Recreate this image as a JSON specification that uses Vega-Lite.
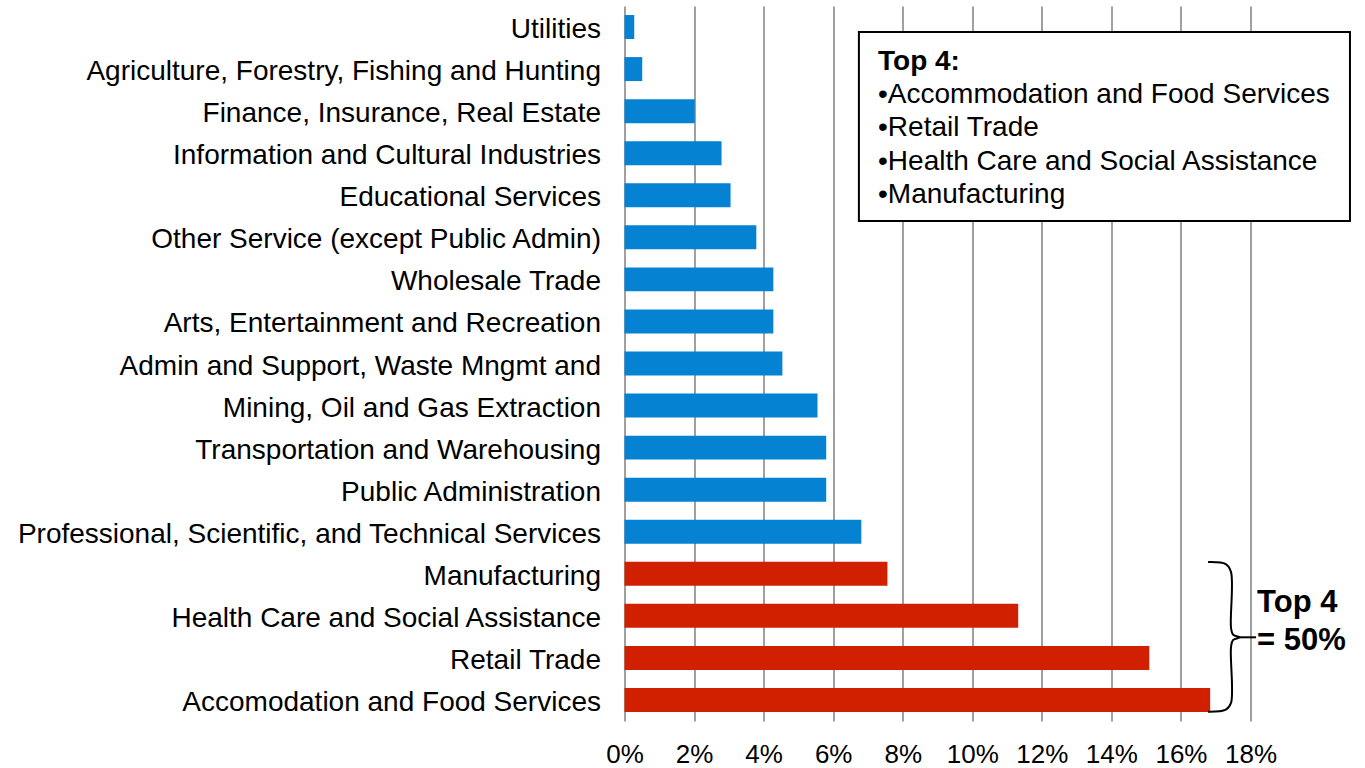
{
  "$schema": "https://vega.github.io/schema/vega-lite/v6.json",
  "width": 626,
  "height": 715,
  "autosize": "none",
  "padding": {"left": 624.5, "top": 6, "right": 114.5, "bottom": 47},
  "background": "white",
  "config": {"view": {"stroke": null}, "font": "Liberation Sans"},
  "datasets": {
    "bars": [
      {"industry": "Utilities", "share": 0.28, "group": "Other"},
      {"industry": "Agriculture, Forestry, Fishing and Hunting", "share": 0.51, "group": "Other"},
      {"industry": "Finance, Insurance, Real Estate", "share": 2.02, "group": "Other"},
      {"industry": "Information and Cultural Industries", "share": 2.79, "group": "Other"},
      {"industry": "Educational Services", "share": 3.05, "group": "Other"},
      {"industry": "Other Service (except Public Admin)", "share": 3.79, "group": "Other"},
      {"industry": "Wholesale Trade", "share": 4.28, "group": "Other"},
      {"industry": "Arts, Entertainment and Recreation", "share": 4.28, "group": "Other"},
      {"industry": "Admin and Support, Waste Mngmt and", "share": 4.54, "group": "Other"},
      {"industry": "Mining, Oil and Gas Extraction", "share": 5.55, "group": "Other"},
      {"industry": "Transportation and Warehousing", "share": 5.8, "group": "Other"},
      {"industry": "Public Administration", "share": 5.8, "group": "Other"},
      {"industry": "Professional, Scientific, and Technical Services", "share": 6.81, "group": "Other"},
      {"industry": "Manufacturing", "share": 7.56, "group": "Top 4"},
      {"industry": "Health Care and Social Assistance", "share": 11.32, "group": "Top 4"},
      {"industry": "Retail Trade", "share": 15.09, "group": "Top 4"},
      {"industry": "Accomodation and Food Services", "share": 16.84, "group": "Top 4"}
    ],
    "box": [{"x1": 6.74, "x2": 20.86, "y1": 0.62, "y2": 5.11}],
    "boxTitle": [{"label": "Top 4:", "x": 7.29, "y": 1.52}],
    "boxItems": [
      {"label": "•Accommodation and Food Services", "x": 7.29, "y": 2.31},
      {"label": "•Retail Trade", "x": 7.29, "y": 3.1},
      {"label": "•Health Care and Social Assistance", "x": 7.29, "y": 3.9},
      {"label": "•Manufacturing", "x": 7.29, "y": 4.68}
    ],
    "brace": [
      {"i": 0, "x": 16.78, "y": 13.22},
      {"i": 1, "x": 17.29, "y": 13.27},
      {"i": 2, "x": 17.44, "y": 13.46},
      {"i": 3, "x": 17.44, "y": 14.79},
      {"i": 4, "x": 17.5, "y": 14.95},
      {"i": 5, "x": 17.7, "y": 15.01},
      {"i": 6, "x": 17.5, "y": 15.07},
      {"i": 7, "x": 17.44, "y": 15.24},
      {"i": 8, "x": 17.44, "y": 16.57},
      {"i": 9, "x": 17.29, "y": 16.73},
      {"i": 10, "x": 16.78, "y": 16.78}
    ],
    "stub": [{"x1": 17.7, "x2": 18.16, "y": 15.01}],
    "braceText": [
      {"label": "Top 4", "x": 18.19, "y": 14.41},
      {"label": "= 50%", "x": 18.19, "y": 15.31}
    ]
  },
  "layer": [
    {
      "data": {"name": "bars"},
      "mark": {"type": "bar"},
      "encoding": {
        "y": {
          "field": "industry", "type": "nominal", "sort": null,
          "scale": {"paddingInner": 0.43, "paddingOuter": 0.215},
          "axis": {"title": null, "domain": false, "ticks": false, "labelPadding": 24, "labelOffset": 3, "labelFontSize": 28, "labelColor": "#000000", "labelLimit": 800, "labelFont": "Liberation Sans"}
        },
        "x": {
          "field": "share", "type": "quantitative",
          "scale": {"domain": [0, 18], "nice": false},
          "axis": {"title": null, "values": [0, 2, 4, 6, 8, 10, 12, 14, 16, 18], "labelExpr": "datum.value + '%'", "grid": true, "gridColor": "#A0A0A0", "gridWidth": 2, "domain": false, "ticks": false, "labelPadding": 20, "labelFontSize": 26, "labelColor": "#000000", "labelFont": "Liberation Sans", "labelFlush": false, "labelOverlap": false}
        },
        "color": {"field": "group", "type": "nominal", "scale": {"domain": ["Top 4", "Other"], "range": ["#D02000", "#0582D2"]}, "legend": null}
      }
    },
    {
      "data": {"name": "box"},
      "mark": {"type": "rect", "fill": "white", "stroke": "#000000", "strokeWidth": 2},
      "encoding": {
        "x": {"field": "x1", "type": "quantitative"},
        "x2": {"field": "x2"},
        "y": {"field": "y1", "type": "quantitative", "scale": {"domain": [0, 17], "reverse": true, "nice": false}, "axis": null},
        "y2": {"field": "y2"}
      }
    },
    {
      "data": {"name": "boxTitle"},
      "mark": {"type": "text", "align": "left", "baseline": "alphabetic", "fontSize": 28, "fontWeight": "bold", "font": "Liberation Sans", "color": "#000000"},
      "encoding": {
        "x": {"field": "x", "type": "quantitative"},
        "y": {"field": "y", "type": "quantitative", "scale": {"domain": [0, 17], "reverse": true, "nice": false}, "axis": null},
        "text": {"field": "label"}
      }
    },
    {
      "data": {"name": "boxItems"},
      "mark": {"type": "text", "align": "left", "baseline": "alphabetic", "fontSize": 28, "font": "Liberation Sans", "color": "#000000"},
      "encoding": {
        "x": {"field": "x", "type": "quantitative"},
        "y": {"field": "y", "type": "quantitative", "scale": {"domain": [0, 17], "reverse": true, "nice": false}, "axis": null},
        "text": {"field": "label"}
      }
    },
    {
      "data": {"name": "brace"},
      "mark": {"type": "line", "interpolate": "catmull-rom", "color": "#000000", "strokeWidth": 2},
      "encoding": {
        "x": {"field": "x", "type": "quantitative"},
        "y": {"field": "y", "type": "quantitative", "scale": {"domain": [0, 17], "reverse": true, "nice": false}, "axis": null},
        "order": {"field": "i", "type": "quantitative"}
      }
    },
    {
      "data": {"name": "stub"},
      "mark": {"type": "rule", "color": "#000000", "strokeWidth": 2},
      "encoding": {
        "x": {"field": "x1", "type": "quantitative"},
        "x2": {"field": "x2"},
        "y": {"field": "y", "type": "quantitative", "scale": {"domain": [0, 17], "reverse": true, "nice": false}, "axis": null}
      }
    },
    {
      "data": {"name": "braceText"},
      "mark": {"type": "text", "align": "left", "baseline": "alphabetic", "fontSize": 31, "fontWeight": "bold", "font": "Liberation Sans", "color": "#000000"},
      "encoding": {
        "x": {"field": "x", "type": "quantitative"},
        "y": {"field": "y", "type": "quantitative", "scale": {"domain": [0, 17], "reverse": true, "nice": false}, "axis": null},
        "text": {"field": "label"}
      }
    }
  ],
  "resolve": {"scale": {"y": "independent"}, "axis": {"y": "independent"}}
}
